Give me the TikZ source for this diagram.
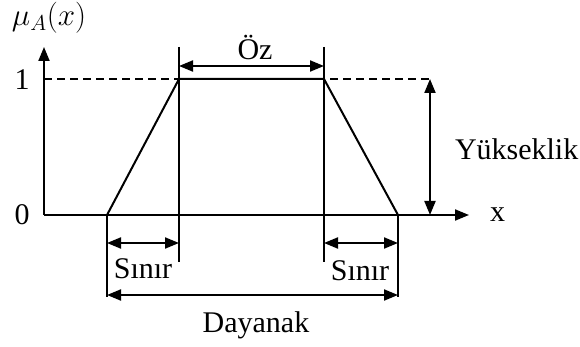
\documentclass[tikz,border=0pt]{standalone}
\usepackage{fontspec}
\setmainfont{Liberation Serif}
\usetikzlibrary{arrows.meta}
\begin{document}
\begin{tikzpicture}[x=1pt,y=-1pt, line width=2pt,
  tip/.tip={Triangle[length=14pt,width=11pt]},
  axis/.style={-tip},
  dim/.style={tip-tip},
  guide/.style={line width=1.8pt},
  lbl/.style={inner sep=0pt, anchor=base, font=\fontsize{30}{36}\selectfont}]
\useasboundingbox (0,0) rectangle (580,347);
% key points
\coordinate (O) at (44,215);
\coordinate (ytip) at (44,47);
\coordinate (xtip) at (469,215);
\coordinate (A) at (107,215);
\coordinate (B) at (179,79);
\coordinate (C) at (324,79);
\coordinate (D) at (398,215);
\coordinate (Btop) at (179,47);
\coordinate (Bbot) at (179,262);
\coordinate (Ctop) at (324,47);
\coordinate (Cbot) at (324,262);
\coordinate (Abot) at (107,297);
\coordinate (Dbot) at (398,297);
\coordinate (one) at (44,79);
\coordinate (dashend) at (433,79);
\coordinate (Htop) at (430,79);
\coordinate (Hbot) at (430,215);
% axes
\draw[axis] (O) -- (ytip);
\draw[axis] (O) -- (xtip);
\draw[dashed, dash pattern=on 8pt off 5pt] (one) -- (dashend);
% trapezoid
\draw (A) -- (B) -- (C) -- (D);
% guide lines
\draw[guide] (Btop) -- (Bbot);
\draw[guide] (Ctop) -- (Cbot);
\draw[guide] (A) -- (Abot);
\draw[guide] (D) -- (Dbot);
% dimension arrows
\draw[dim] (179,66) -- (324,66);
\draw[dim] (107,243) -- (179,243);
\draw[dim] (324,243) -- (398,243);
\draw[dim] (107,295) -- (398,295);
\draw[dim] (Htop) -- (Hbot);
% labels
\node[inner sep=0pt, anchor=base west] (mu) at (11,26) {\scalebox{1.25}{\fontsize{25}{30}\selectfont$\mu_A(x)$}};
\node[lbl] (l1) at (22,90) {1};
\node[lbl] (l0) at (22,225) {0};
\node[lbl, anchor=base west] (lx) at (489,222) {x};
\node[lbl] (oz) at (255,60) {Öz};
\node[lbl, anchor=base west] (yuk) at (454,160) {Yükseklik};
\node[lbl] (s1) at (143,278) {Sınır};
\node[lbl] (s2) at (360,280) {Sınır};
\node[lbl] (day) at (256,332) {Dayanak};
\end{tikzpicture}
\end{document}
